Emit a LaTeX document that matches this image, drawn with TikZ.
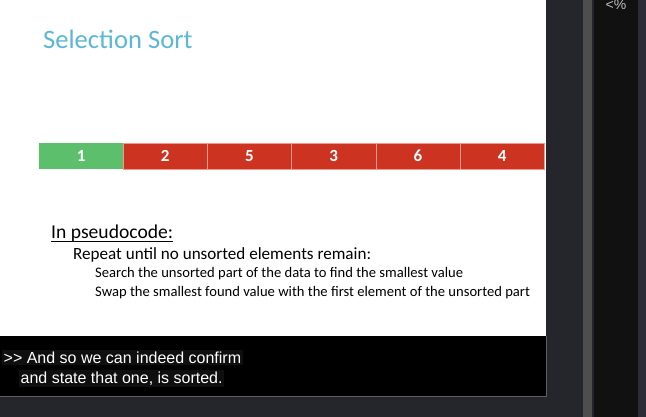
\documentclass[tikz,border=0pt]{standalone}
\usepackage{fontspec}
\setmainfont{Carlito}
\newfontfamily\capfont{Liberation Sans}
\usetikzlibrary{positioning}
\definecolor{titleblue}{HTML}{5BB8D4}
\definecolor{sortgreen}{HTML}{5CBF6B}
\definecolor{unsortred}{HTML}{CC3320}
\definecolor{cellline}{HTML}{EE9A90}
\definecolor{paneldark}{HTML}{24262B}
\definecolor{panelgray}{HTML}{4E4E4E}
\definecolor{panelblack}{HTML}{111111}
\definecolor{paneledge}{HTML}{2B2C36}
\definecolor{capline}{HTML}{5C6066}

\begin{document}
\begin{tikzpicture}[
  x=1pt,y=-1pt,
  node distance=0pt,
  cell/.style={minimum width=84.2pt,minimum height=26pt,inner sep=0pt,outer sep=0pt,
               text=white,font=\fontsize{17}{17}\selectfont\bfseries},
  sorted/.style={cell,fill=sortgreen},
  unsorted/.style={cell,fill=unsortred,draw=cellline,line width=0.6pt},
  code/.style={anchor=base west,inner sep=0pt,text=black},
  caption/.style={anchor=base west,inner sep=1.5pt,fill=black!94,text=white,
                  font=\capfont\fontsize{16}{16}\selectfont}
]
  \useasboundingbox (0,0) rectangle (646,417);
  \fill[white] (0,0) rectangle (646,417);

  % side panels of the player
  \fill[paneldark] (546,0) rectangle (646,417);
  \fill[paneldark] (0,396) rectangle (546,417);
  \fill[panelgray] (583,0) rectangle (592,417);
  \fill[panelblack] (594,0) rectangle (638,417);
  \fill[paneledge] (638,0) rectangle (646,417);
  \node[anchor=north,inner sep=0pt,text=black!25,font=\capfont\fontsize{14}{14}\selectfont]
    (pct) at (616,0) {<\%};

  \node[code,text=titleblue,font=\fontsize{26.6}{26.6}\selectfont] (title) at (43,49) {Selection Sort};

  % the array
  \node[sorted] (c1) at (81.1,156) {1};
  \node[unsorted,right=of c1] (c2) {2};
  \node[unsorted,right=of c2] (c3) {5};
  \node[unsorted,right=of c3] (c4) {3};
  \node[unsorted,right=of c4] (c5) {6};
  \node[unsorted,right=of c5] (c6) {4};

  % pseudocode
  \node[code,font=\fontsize{19.6}{19.6}\selectfont] (ps) at (51,239) {In pseudocode:};
  \draw[line width=0.9pt] ([yshift=-2.5pt]ps.base west) -- ([yshift=-2.5pt]ps.base east);
  \node[code,font=\fontsize{17.1}{17.1}\selectfont] (rep) at (73,260) {Repeat until no unsorted elements remain:};
  \node[code,font=\fontsize{14.6}{14.6}\selectfont] (srch) at (95,277)
    {Search the unsorted part of the data to find the smallest value};
  \node[code,font=\fontsize{14.6}{14.6}\selectfont] (swap) at (95,296)
    {Swap the smallest found value with the first element of the unsorted part};

  % caption bar
  \fill[black] (0,336) rectangle (546,396);
  \draw[capline,line width=0.8pt] (0,396) -- (546,396) -- (546,336);
  \node[caption] (cap1) at (2,363) {>> And so we can indeed confirm};
  \node[caption] (cap2) at (19,383) {and state that one, is sorted.};
\end{tikzpicture}
\end{document}
